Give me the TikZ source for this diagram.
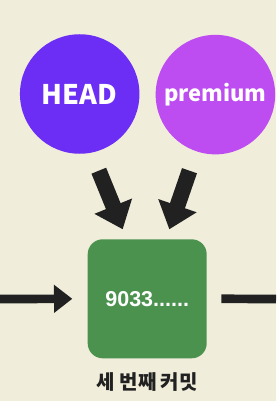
\documentclass[tikz,border=0pt]{standalone}
\usepackage{fontspec}
\setmainfont{Noto Sans CJK KR}
\newfontfamily\numfont{Liberation Sans}
\newfontfamily\krfont{Noto Sans CJK KR}
\usetikzlibrary{arrows.meta,positioning}
\definecolor{paper}{HTML}{F0EDDB}
\definecolor{headcol}{HTML}{6C2DF5}
\definecolor{premcol}{HTML}{BD4DF1}
\definecolor{commitcol}{HTML}{4A924E}
\definecolor{ink}{HTML}{212121}

\begin{document}
\begin{tikzpicture}[
    x=1pt,
    y=-1pt,
    every node/.style={inner sep=0pt, outer sep=0pt},
    ref/.style={circle, minimum size=119.5pt, text=white,
        font=\bfseries\fontsize{27}{29}\selectfont},
    commit/.style={rectangle, rounded corners=15pt, fill=commitcol,
        minimum width=119pt, minimum height=119pt, text=white,
        font=\numfont\bfseries\fontsize{21.5}{23}\selectfont},
    caption/.style={text=ink, font=\krfont\bfseries\fontsize{20}{22}\selectfont},
    ptr/.style={-{Triangle[length=25pt,width=39pt]}, draw=ink,
        line width=15.8pt},
    flow/.style={-{Triangle[length=18.3pt,width=27pt]}, draw=ink,
        line width=8.7pt},
    line/.style={draw=ink, line width=8.7pt}
]
    \fill[paper] (0,0) rectangle (276,401);
    \useasboundingbox (0,0) rectangle (276,401);

    \node[ref, fill=headcol] (head) at (79.7,94) {HEAD};
    \node[ref, fill=premcol, font=\bfseries\fontsize{22}{24}\selectfont]
        (premium) at (215.4,94.6) {premium};

    \node[commit] (third) at (147.2,298.8) {9033......};
    \node[caption, below=14pt of third] (thirdlabel) {세 번째 커밋};

    \coordinate (headfrom) at (98.8,170.7);
    \coordinate (headto) at ([xshift=-24.5pt,yshift=10pt]third.north);
    \coordinate (premfrom) at (189.5,170.7);
    \coordinate (premto) at ([xshift=22.1pt,yshift=10pt]third.north);
    \coordinate (prev) at (0,299);
    \coordinate (next) at (276,299);

    \draw[ptr] (headfrom) -- (headto);
    \draw[ptr] (premfrom) -- (premto);
    \draw[flow] (prev) -- ([xshift=-15.4pt]third.west);
    \draw[line] ([xshift=14.6pt]third.east) -- (next);
\end{tikzpicture}
\end{document}
